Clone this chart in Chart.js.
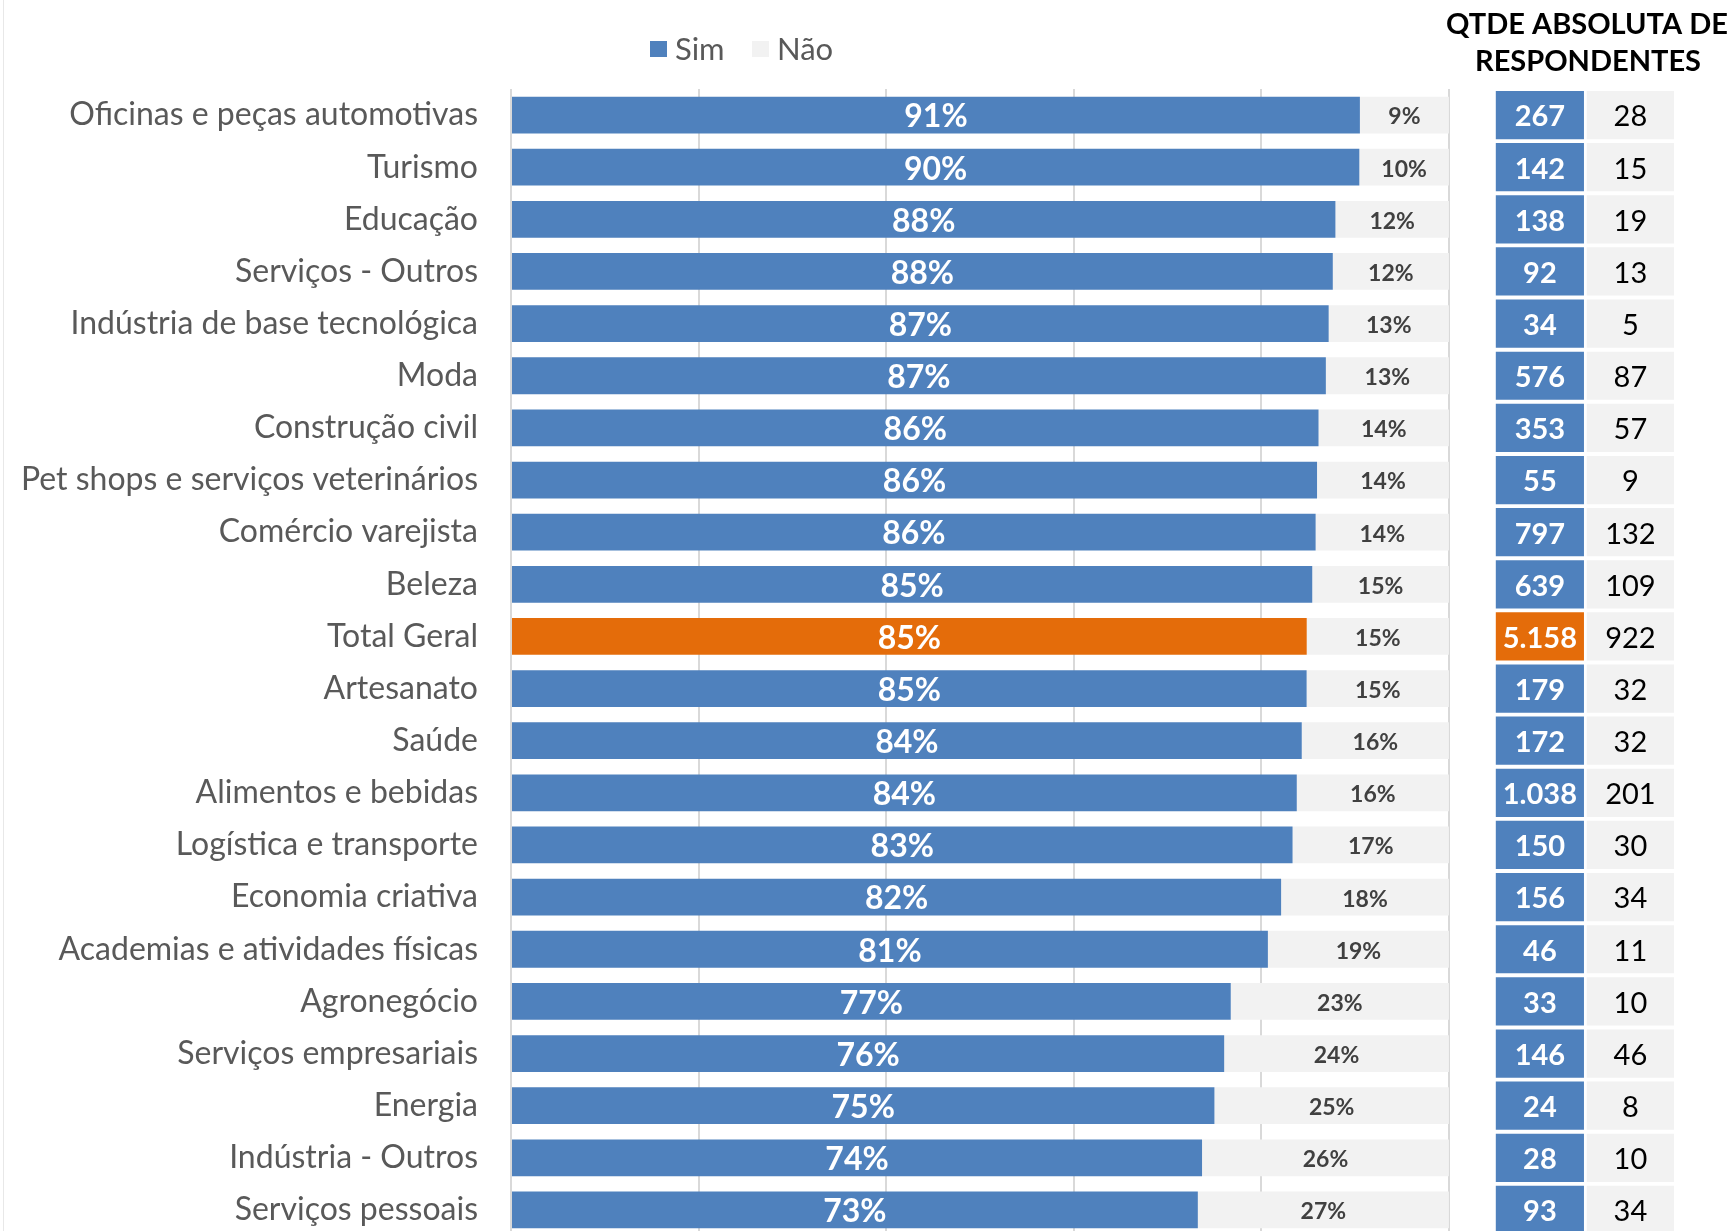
<!DOCTYPE html>
<html>
<head>
<meta charset="utf-8">
<script src="https://cdn.jsdelivr.net/npm/chart.js@4.4.1/dist/chart.umd.min.js"></script>
<style>
  html, body { margin: 0; padding: 0; background: #fff; overflow: hidden; }
  #wrap { position: relative; width: 1734px; height: 1240px; }
  #edge { position: absolute; left: 3px; top: 0; width: 1px; height: 1240px; background: #e8e8e8; }
  canvas { position: absolute; left: 0; top: 0; }
</style>
</head>
<body>
<div id="wrap">
  <div id="edge"></div>
  <canvas id="chart" width="1734" height="1240"></canvas>
</div>
<script>
const categories = [
  'Oficinas e peças automotivas', 'Turismo', 'Educação', 'Serviços - Outros',
  'Indústria de base tecnológica', 'Moda', 'Construção civil',
  'Pet shops e serviços veterinários', 'Comércio varejista', 'Beleza',
  'Total Geral', 'Artesanato', 'Saúde', 'Alimentos e bebidas',
  'Logística e transporte', 'Economia criativa', 'Academias e atividades físicas',
  'Agronegócio', 'Serviços empresariais', 'Energia', 'Indústria - Outros',
  'Serviços pessoais'
];

// share of "Sim" / "Não" answers, in %
const simPct = [90.51, 90.45, 87.9, 87.62, 87.18, 86.88, 86.1, 85.94, 85.79, 85.43,
  84.84, 84.83, 84.31, 83.78, 83.33, 82.11, 80.7, 76.74, 76.04, 75, 73.68, 73.23];
const naoPct = [9.49, 9.55, 12.1, 12.38, 12.82, 13.12, 13.9, 14.06, 14.21, 14.57,
  15.16, 15.17, 15.69, 16.22, 16.67, 17.89, 19.3, 23.26, 23.96, 25, 26.32, 26.77];

// absolute number of respondents
const simCount = ['267', '142', '138', '92', '34', '576', '353', '55', '797', '639',
  '5.158', '179', '172', '1.038', '150', '156', '46', '33', '146', '24', '28', '93'];
const naoCount = ['28', '15', '19', '13', '5', '87', '57', '9', '132', '109',
  '922', '32', '32', '201', '30', '34', '11', '10', '46', '8', '10', '34'];

const gridTicks = [0, 20, 40, 60, 80, 100];

const BLUE = '#4F81BD';
const ORANGE = '#E46C0A';
const LIGHT = '#F2F2F2';
const FONT = 'Lato, Carlito, Calibri, sans-serif';
const HIGHLIGHT = 'Total Geral';

// the respondents table sits right of the 100% line, on the same x scale
const COL_SIM = [105, 114.4];
const COL_NAO = [114.7, 124];

const barColor = categories.map(c => c === HIGHLIGHT ? ORANGE : BLUE);
const pct = v => Math.round(v) + '%';

const labelPlugin = {
  id: 'barLabels',
  afterDatasetsDraw(chart) {
    const ctx = chart.ctx;
    ctx.save();
    ctx.textAlign = 'center';
    ctx.textBaseline = 'middle';
    chart.data.datasets.forEach((ds, di) => {
      if (!ds.valueLabels) return;
      const meta = chart.getDatasetMeta(di);
      ctx.font = ds.labelFont;
      ctx.fillStyle = ds.labelColor;
      meta.data.forEach((el, i) => {
        ctx.fillText(ds.valueLabels[i], (el.x + el.base) / 2, el.y + 2);
      });
    });
    ctx.restore();
  }
};

const headerPlugin = {
  id: 'header',
  afterDraw(chart) {
    const ctx = chart.ctx;
    ctx.save();
    // legend
    ctx.textBaseline = 'middle';
    ctx.font = '31px ' + FONT;
    const items = [[chart.data.datasets[0].label, BLUE, 650], [chart.data.datasets[1].label, LIGHT, 752]];
    items.forEach(([txt, col, x]) => {
      ctx.fillStyle = col;
      ctx.fillRect(x, 41, 17, 16);
      ctx.fillStyle = '#595959';
      ctx.textAlign = 'left';
      ctx.fillText(txt, x + 25, 50);
    });
    // table header
    ctx.fillStyle = '#000';
    ctx.textAlign = 'center';
    ctx.font = 'bold 29px ' + FONT;
    ctx.fillText('QTDE ABSOLUTA DE', 1587, 25);
    ctx.fillText('RESPONDENTES', 1588, 62);
    ctx.restore();
  }
};

new Chart(document.getElementById('chart'), {
  type: 'bar',
  data: {
    labels: categories,
    datasets: [
      {
        label: 'Sim', data: simPct, backgroundColor: barColor,
        grouped: false, barPercentage: 1, categoryPercentage: 0.705,
        valueLabels: simPct.map(pct), labelFont: 'bold 32px ' + FONT, labelColor: '#FFFFFF'
      },
      {
        label: 'Não', data: simPct.map((s, i) => [s, s + naoPct[i]]), backgroundColor: LIGHT,
        grouped: false, barPercentage: 1, categoryPercentage: 0.705,
        valueLabels: naoPct.map(pct), labelFont: 'bold 23px ' + FONT, labelColor: '#404040'
      },
      {
        label: 'Qtde Sim', data: simCount.map(() => COL_SIM), backgroundColor: barColor,
        grouped: false, barPercentage: 1, categoryPercentage: 0.925,
        valueLabels: simCount, labelFont: 'bold 29px ' + FONT, labelColor: '#FFFFFF'
      },
      {
        label: 'Qtde Não', data: naoCount.map(() => COL_NAO), backgroundColor: LIGHT,
        grouped: false, barPercentage: 1, categoryPercentage: 0.925,
        valueLabels: naoCount, labelFont: '29px ' + FONT, labelColor: '#000000'
      }
    ]
  },
  options: {
    indexAxis: 'y',
    responsive: false,
    animation: false,
    layout: { padding: { left: 0, right: 60, top: 89, bottom: 4 } },
    plugins: {
      legend: { display: false },
      tooltip: { enabled: false }
    },
    scales: {
      x: {
        min: 0, max: 124,
        afterBuildTicks(axis) { axis.ticks = gridTicks.map(v => ({ value: v })); },
        afterFit(axis) { axis.height = 0; },
        ticks: { display: false },
        grid: { color: '#D9D9D9', lineWidth: 2, drawTicks: false },
        border: { display: false }
      },
      y: {
        afterFit(axis) {
          axis.width = 511;
          axis.paddingTop = 0;
          axis.paddingBottom = 0;
        },
        grid: { display: false, drawTicks: false },
        border: { display: false },
        ticks: { color: '#595959', font: { family: FONT, size: 32 }, padding: 33 }
      }
    }
  },
  plugins: [labelPlugin, headerPlugin]
});
</script>
</body>
</html>
